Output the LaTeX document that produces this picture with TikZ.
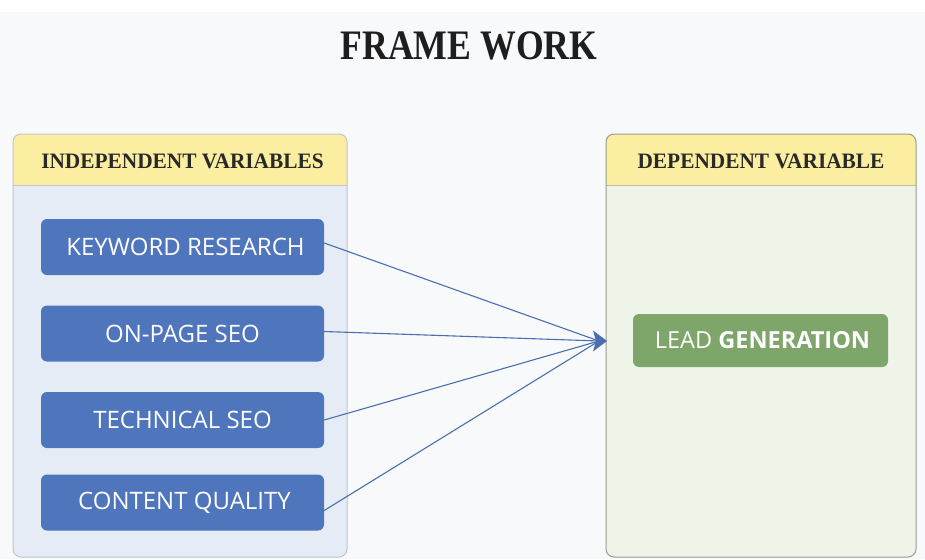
\documentclass[tikz,border=0pt]{standalone}
\usepackage{fontspec}
\setmainfont{Liberation Serif}
\setsansfont{Open Sans}
\usetikzlibrary{positioning}
\usetikzlibrary{arrows.meta}

\definecolor{pagebg}{RGB}{248,249,251}
\definecolor{headyellow}{RGB}{252,238,160}
\definecolor{leftfill}{RGB}{230,236,245}
\definecolor{leftline}{RGB}{190,198,212}
\definecolor{rightfill}{RGB}{239,244,233}
\definecolor{rightline}{RGB}{150,160,140}
\definecolor{boxblue}{RGB}{79,117,189}
\definecolor{boxgreen}{RGB}{126,165,106}
\definecolor{arrowblue}{RGB}{74,111,176}
\definecolor{titleink}{RGB}{30,30,30}

\tikzset{
  varbox/.style={rectangle, rounded corners=6pt, fill=boxblue, draw=none,
    minimum width=283pt, minimum height=56pt, inner sep=0pt,
    text=white, font=\sffamily\fontsize{24}{28}\selectfont},
  leadbox/.style={rectangle, rounded corners=6pt, fill=boxgreen, draw=none,
    minimum width=255pt, minimum height=53pt, inner sep=0pt,
    text=white, font=\sffamily\fontsize{23.5}{28}\selectfont},
  headtext/.style={font=\bfseries\fontsize{22}{26}\selectfont, text=titleink!95},
  link/.style={arrowblue, line width=1.1pt}
}

\begin{document}
\begin{tikzpicture}[x=1pt,y=1pt,yscale=-1,xscale=1]
	% page
	\fill[white] (0,0) rectangle (925,559);
	\fill[pagebg] (0,12) rectangle (925,559);
	\useasboundingbox (0,0) rectangle (925,559);
	
	% left panel
	\fill[leftfill, rounded corners=8pt] (13,134) rectangle (347,557);
	\fill[headyellow, rounded corners=8pt] (13,134) rectangle (347,185);
	\fill[headyellow] (13,170) rectangle (347,185);
	\draw[leftline, line width=0.8pt] (13,185) -- (347,185);
	\draw[leftline, line width=1pt, rounded corners=8pt] (13,134) rectangle (347,557);
	
	% right panel
	\fill[rightfill, rounded corners=8pt] (606,134) rectangle (916,557);
	\fill[headyellow, rounded corners=8pt] (606,134) rectangle (916,185);
	\fill[headyellow] (606,170) rectangle (916,185);
	\draw[rightline!70, line width=0.8pt] (606,185) -- (916,185);
	\draw[rightline, line width=1pt, rounded corners=8pt] (606,134) rectangle (916,557);
	
	% Text Node
	\node (title) at (469,46) [font=\bfseries\fontsize{42}{46}\selectfont, text=titleink] {\scalebox{0.85}[1]{FRAME WORK}};
	\node (indhead) at (182.5,161) [headtext] {\scalebox{0.97}[1]{INDEPENDENT VARIABLES}};
	\node (dephead) at (761,161) [headtext] {\scalebox{0.97}[1]{DEPENDENT VARIABLE}};
	
	% variable boxes
	\node (keyword) at (182.5,247) [varbox] {\hspace{6pt}KEYWORD RESEARCH};
	\node (onpage) at (182.5,333.5) [varbox] {ON-PAGE SEO};
	\node (technical) at (182.5,420) [varbox] {TECHNICAL SEO};
	\node (content) at (182.5,502.5) [varbox] {\hspace{4pt}CONTENT QUALITY};
	\node (lead) at (760.5,340.5) [leadbox] {\hspace{4pt}LEAD \textbf{GENERATION}};
	
	\coordinate (target) at (607,341);
	
	% links
	\draw[link] ([yshift=-4pt]keyword.east) -- ([xshift=-8pt]target);
	\draw[link] ([yshift=-2pt]onpage.east) -- ([xshift=-8pt]target);
	\draw[link] (technical.east) -- ([xshift=-8pt]target);
	\draw[link] ([yshift=8pt]content.east) -- ([xshift=-8pt]target);
	\fill[arrowblue] (target) -- ++(-14,-10.5) -- ++(3,10.5) -- ++(-3,10.5) -- cycle;
	
\end{tikzpicture}
\end{document}
